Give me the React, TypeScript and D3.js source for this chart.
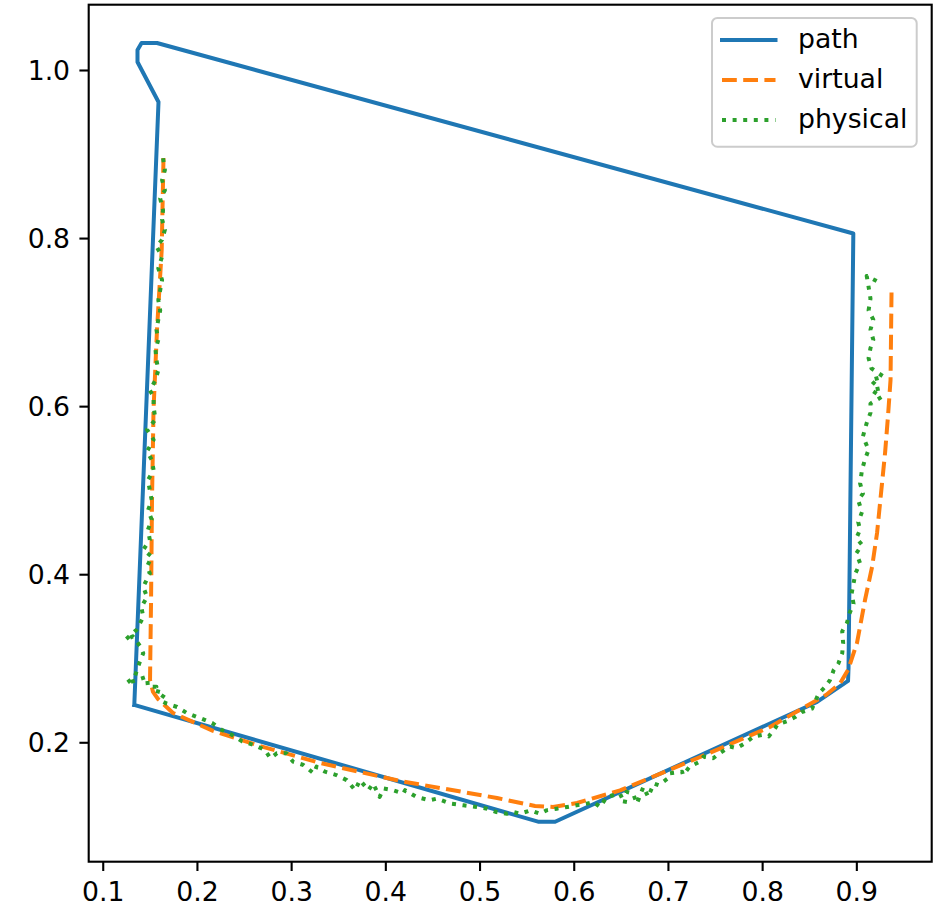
import React, { useEffect, useRef } from 'react';
import * as d3 from 'd3';

type Pt = [number, number];

// planned route (closed polygon)
const pathPts: Pt[] = [
  [0.1335, 0.2444], [0.1592, 0.9619], [0.1369, 1.0095], [0.1369, 1.0238],
  [0.1412, 1.0321], [0.1576, 1.0321], [0.8968, 0.8054], [0.8917, 0.2884],
  [0.8912, 0.273], [0.8583, 0.248], [0.5802, 0.1055], [0.5621, 0.1055],
  [0.1335, 0.2444],
];

const virtualPts: Pt[] = [
  [0.1645, 0.8953], [0.1626, 0.7858], [0.1576, 0.6906], [0.1539, 0.5954],
  [0.1523, 0.4883], [0.1513, 0.3693], [0.1502, 0.2742], [0.1534, 0.2599],
  [0.1587, 0.2515], [0.1746, 0.2349], [0.2171, 0.2135], [0.267, 0.1956],
  [0.3307, 0.1754], [0.4156, 0.154], [0.5186, 0.1337], [0.5589, 0.1242],
  [0.578, 0.123], [0.6035, 0.1278], [0.6492, 0.1427], [0.7342, 0.1825],
  [0.8083, 0.2182], [0.8509, 0.2456], [0.8678, 0.2563], [0.8827, 0.27],
  [0.8912, 0.2861], [0.9007, 0.3182], [0.9092, 0.3693], [0.9167, 0.4086],
  [0.922, 0.4491], [0.9273, 0.5086], [0.9305, 0.5443], [0.9337, 0.5895],
  [0.9363, 0.6311], [0.9374, 0.7406],
];

const physicalPts: Pt[] = [
  [0.164, 0.895], [0.166, 0.881], [0.163, 0.869], [0.166, 0.857], [0.161, 0.847],
  [0.164, 0.833], [0.163, 0.822], [0.166, 0.81], [0.163, 0.798], [0.157, 0.79],
  [0.163, 0.778], [0.159, 0.764], [0.163, 0.75], [0.161, 0.738], [0.159, 0.726],
  [0.161, 0.714], [0.159, 0.703], [0.157, 0.691], [0.159, 0.679], [0.156, 0.667],
  [0.157, 0.655], [0.159, 0.643], [0.156, 0.631], [0.15, 0.619], [0.154, 0.611],
  [0.154, 0.599], [0.156, 0.584], [0.147, 0.572], [0.154, 0.56], [0.147, 0.546],
  [0.152, 0.536], [0.154, 0.524], [0.148, 0.512], [0.15, 0.5], [0.152, 0.488],
  [0.148, 0.476], [0.152, 0.465], [0.148, 0.453], [0.15, 0.441], [0.143, 0.429],
  [0.152, 0.421], [0.147, 0.409], [0.15, 0.401], [0.143, 0.385], [0.147, 0.373],
  [0.141, 0.361], [0.143, 0.349], [0.136, 0.334], [0.124, 0.322], [0.132, 0.326],
  [0.14, 0.314], [0.143, 0.306], [0.14, 0.298], [0.134, 0.278], [0.125, 0.27],
  [0.147, 0.278], [0.148, 0.266], [0.157, 0.266], [0.154, 0.262], [0.166, 0.258],
  [0.161, 0.25], [0.168, 0.246], [0.179, 0.242], [0.189, 0.235], [0.2, 0.23],
  [0.203, 0.229], [0.216, 0.223], [0.226, 0.215], [0.237, 0.209], [0.248, 0.201],
  [0.26, 0.197], [0.272, 0.191], [0.278, 0.181], [0.285, 0.187], [0.295, 0.187],
  [0.302, 0.177], [0.313, 0.173], [0.324, 0.163], [0.327, 0.171], [0.336, 0.165],
  [0.348, 0.161], [0.359, 0.155], [0.368, 0.143], [0.373, 0.155], [0.382, 0.143],
  [0.387, 0.151], [0.394, 0.135], [0.398, 0.145], [0.408, 0.143], [0.419, 0.139],
  [0.421, 0.143], [0.433, 0.135], [0.447, 0.131], [0.455, 0.133], [0.469, 0.127],
  [0.483, 0.125], [0.497, 0.123], [0.508, 0.121], [0.518, 0.117], [0.529, 0.115],
  [0.536, 0.117], [0.543, 0.115], [0.554, 0.119], [0.564, 0.115], [0.571, 0.119],
  [0.582, 0.121], [0.593, 0.123], [0.603, 0.125], [0.614, 0.127], [0.621, 0.129],
  [0.628, 0.123], [0.635, 0.135], [0.642, 0.137], [0.649, 0.139], [0.654, 0.127],
  [0.656, 0.141], [0.663, 0.139], [0.667, 0.127], [0.674, 0.147], [0.679, 0.135],
  [0.685, 0.151], [0.69, 0.149], [0.7, 0.157], [0.702, 0.163], [0.715, 0.165],
  [0.716, 0.161], [0.723, 0.171], [0.734, 0.177], [0.738, 0.183], [0.748, 0.181],
  [0.755, 0.187], [0.766, 0.195], [0.773, 0.193], [0.782, 0.199], [0.791, 0.207],
  [0.801, 0.209], [0.807, 0.207], [0.814, 0.217], [0.816, 0.221], [0.826, 0.225],
  [0.835, 0.23], [0.842, 0.236], [0.853, 0.24], [0.86, 0.258], [0.867, 0.266],
  [0.872, 0.274], [0.876, 0.286], [0.881, 0.294], [0.885, 0.306], [0.886, 0.318],
  [0.885, 0.332], [0.89, 0.342], [0.893, 0.354], [0.897, 0.365], [0.895, 0.377],
  [0.897, 0.389], [0.899, 0.401], [0.904, 0.413], [0.9, 0.425], [0.906, 0.435],
  [0.9, 0.443], [0.904, 0.453], [0.902, 0.462], [0.906, 0.474], [0.902, 0.488],
  [0.907, 0.496], [0.904, 0.508], [0.906, 0.524], [0.909, 0.536], [0.913, 0.548],
  [0.907, 0.564], [0.911, 0.58], [0.915, 0.592], [0.915, 0.603], [0.927, 0.611],
  [0.916, 0.619], [0.925, 0.621], [0.915, 0.631], [0.929, 0.635], [0.916, 0.645],
  [0.913, 0.657], [0.915, 0.669], [0.918, 0.679], [0.915, 0.691], [0.918, 0.703],
  [0.913, 0.714], [0.915, 0.728], [0.913, 0.742], [0.911, 0.755], [0.923, 0.748],
];

const xTicks = [0.1, 0.2, 0.3, 0.4, 0.5, 0.6, 0.7, 0.8, 0.9];
const yTicks = [0.2, 0.4, 0.6, 0.8, 1.0];
const seriesNames = ['path', 'virtual', 'physical'];

const W = 940;
const H = 908;
const margin = { top: 4.7, right: 8.3, bottom: 46.3, left: 88.7 };
const FONT = '"DejaVu Sans", sans-serif';
const FS = 26.7;

const styles = [
  { color: '#1f77b4', dash: null as string | null, cap: 'square' },
  { color: '#ff7f0e', dash: '14.8,6.4', cap: 'butt' },
  { color: '#2ca02c', dash: '4,6.6', cap: 'butt' },
];

const App = () => {
  const svgRef = useRef<SVGSVGElement>(null);

  useEffect(() => {
    const svg = d3.select(svgRef.current);
    svg.selectAll('*').remove();

    const iw = W - margin.left - margin.right;
    const ih = H - margin.top - margin.bottom;

    const x = d3.scaleLinear().domain([0.0851, 0.98]).range([0, iw]);
    const y = d3.scaleLinear().domain([0.0579, 1.0777]).range([ih, 0]);

    const g = svg.append('g').attr('transform', `translate(${margin.left},${margin.top})`);

    const line = d3
      .line<Pt>()
      .x((d) => x(d[0]))
      .y((d) => y(d[1]));

    [pathPts, virtualPts, physicalPts].forEach((pts, i) => {
      g.append('path')
        .datum(pts)
        .attr('d', line)
        .attr('fill', 'none')
        .attr('stroke', styles[i].color)
        .attr('stroke-width', 4)
        .attr('stroke-linejoin', 'round')
        .attr('stroke-linecap', styles[i].cap)
        .attr('stroke-dasharray', styles[i].dash);
    });

    // axes
    const xAxis = g
      .append('g')
      .attr('transform', `translate(0,${ih})`)
      .call(d3.axisBottom(x).tickValues(xTicks).tickFormat(d3.format('.1f')).tickSize(9.3));
    xAxis.select('.domain').remove();
    xAxis.selectAll('line').attr('stroke', '#000').attr('stroke-width', 2.1);
    xAxis
      .selectAll('text')
      .attr('y', 39.3)
      .attr('dy', null)
      .attr('fill', '#000');

    const yAxis = g
      .append('g')
      .call(d3.axisLeft(y).tickValues(yTicks).tickFormat(d3.format('.1f')).tickSize(9.3));
    yAxis.select('.domain').remove();
    yAxis.selectAll('line').attr('stroke', '#000').attr('stroke-width', 2.1);
    yAxis
      .selectAll('text')
      .attr('x', -18.6)
      .attr('dy', null)
      .attr('y', 9.6)
      .attr('fill', '#000');

    [xAxis, yAxis].forEach((a) => a.attr('font-family', FONT).attr('font-size', FS));

    g.append('rect')
      .attr('width', iw)
      .attr('height', ih)
      .attr('fill', 'none')
      .attr('stroke', '#000')
      .attr('stroke-width', 2.1);

    // legend
    const lg = svg.append('g');
    lg.append('rect')
      .attr('x', 712)
      .attr('y', 18)
      .attr('width', 204.7)
      .attr('height', 128.7)
      .attr('rx', 5.3)
      .attr('fill', '#fff')
      .attr('fill-opacity', 0.8)
      .attr('stroke', '#cccccc')
      .attr('stroke-width', 2);

    seriesNames.forEach((name, i) => {
      const cy = 40 + 40 * i;
      lg.append('line')
        .attr('x1', 722)
        .attr('x2', 775.5)
        .attr('y1', cy)
        .attr('y2', cy)
        .attr('stroke', styles[i].color)
        .attr('stroke-width', 4)
        .attr('stroke-linecap', styles[i].cap)
        .attr('stroke-dasharray', styles[i].dash);
      lg.append('text')
        .attr('x', 798)
        .attr('y', cy + 8.3)
        .attr('font-family', FONT)
        .attr('font-size', FS)
        .attr('fill', '#000')
        .text(name);
    });
  }, []);

  return (
    <svg
      ref={svgRef}
      width={W}
      height={H}
      style={{ position: 'absolute', left: 0, top: 0, background: '#fff' }}
    ></svg>
  );
};

export default App;
